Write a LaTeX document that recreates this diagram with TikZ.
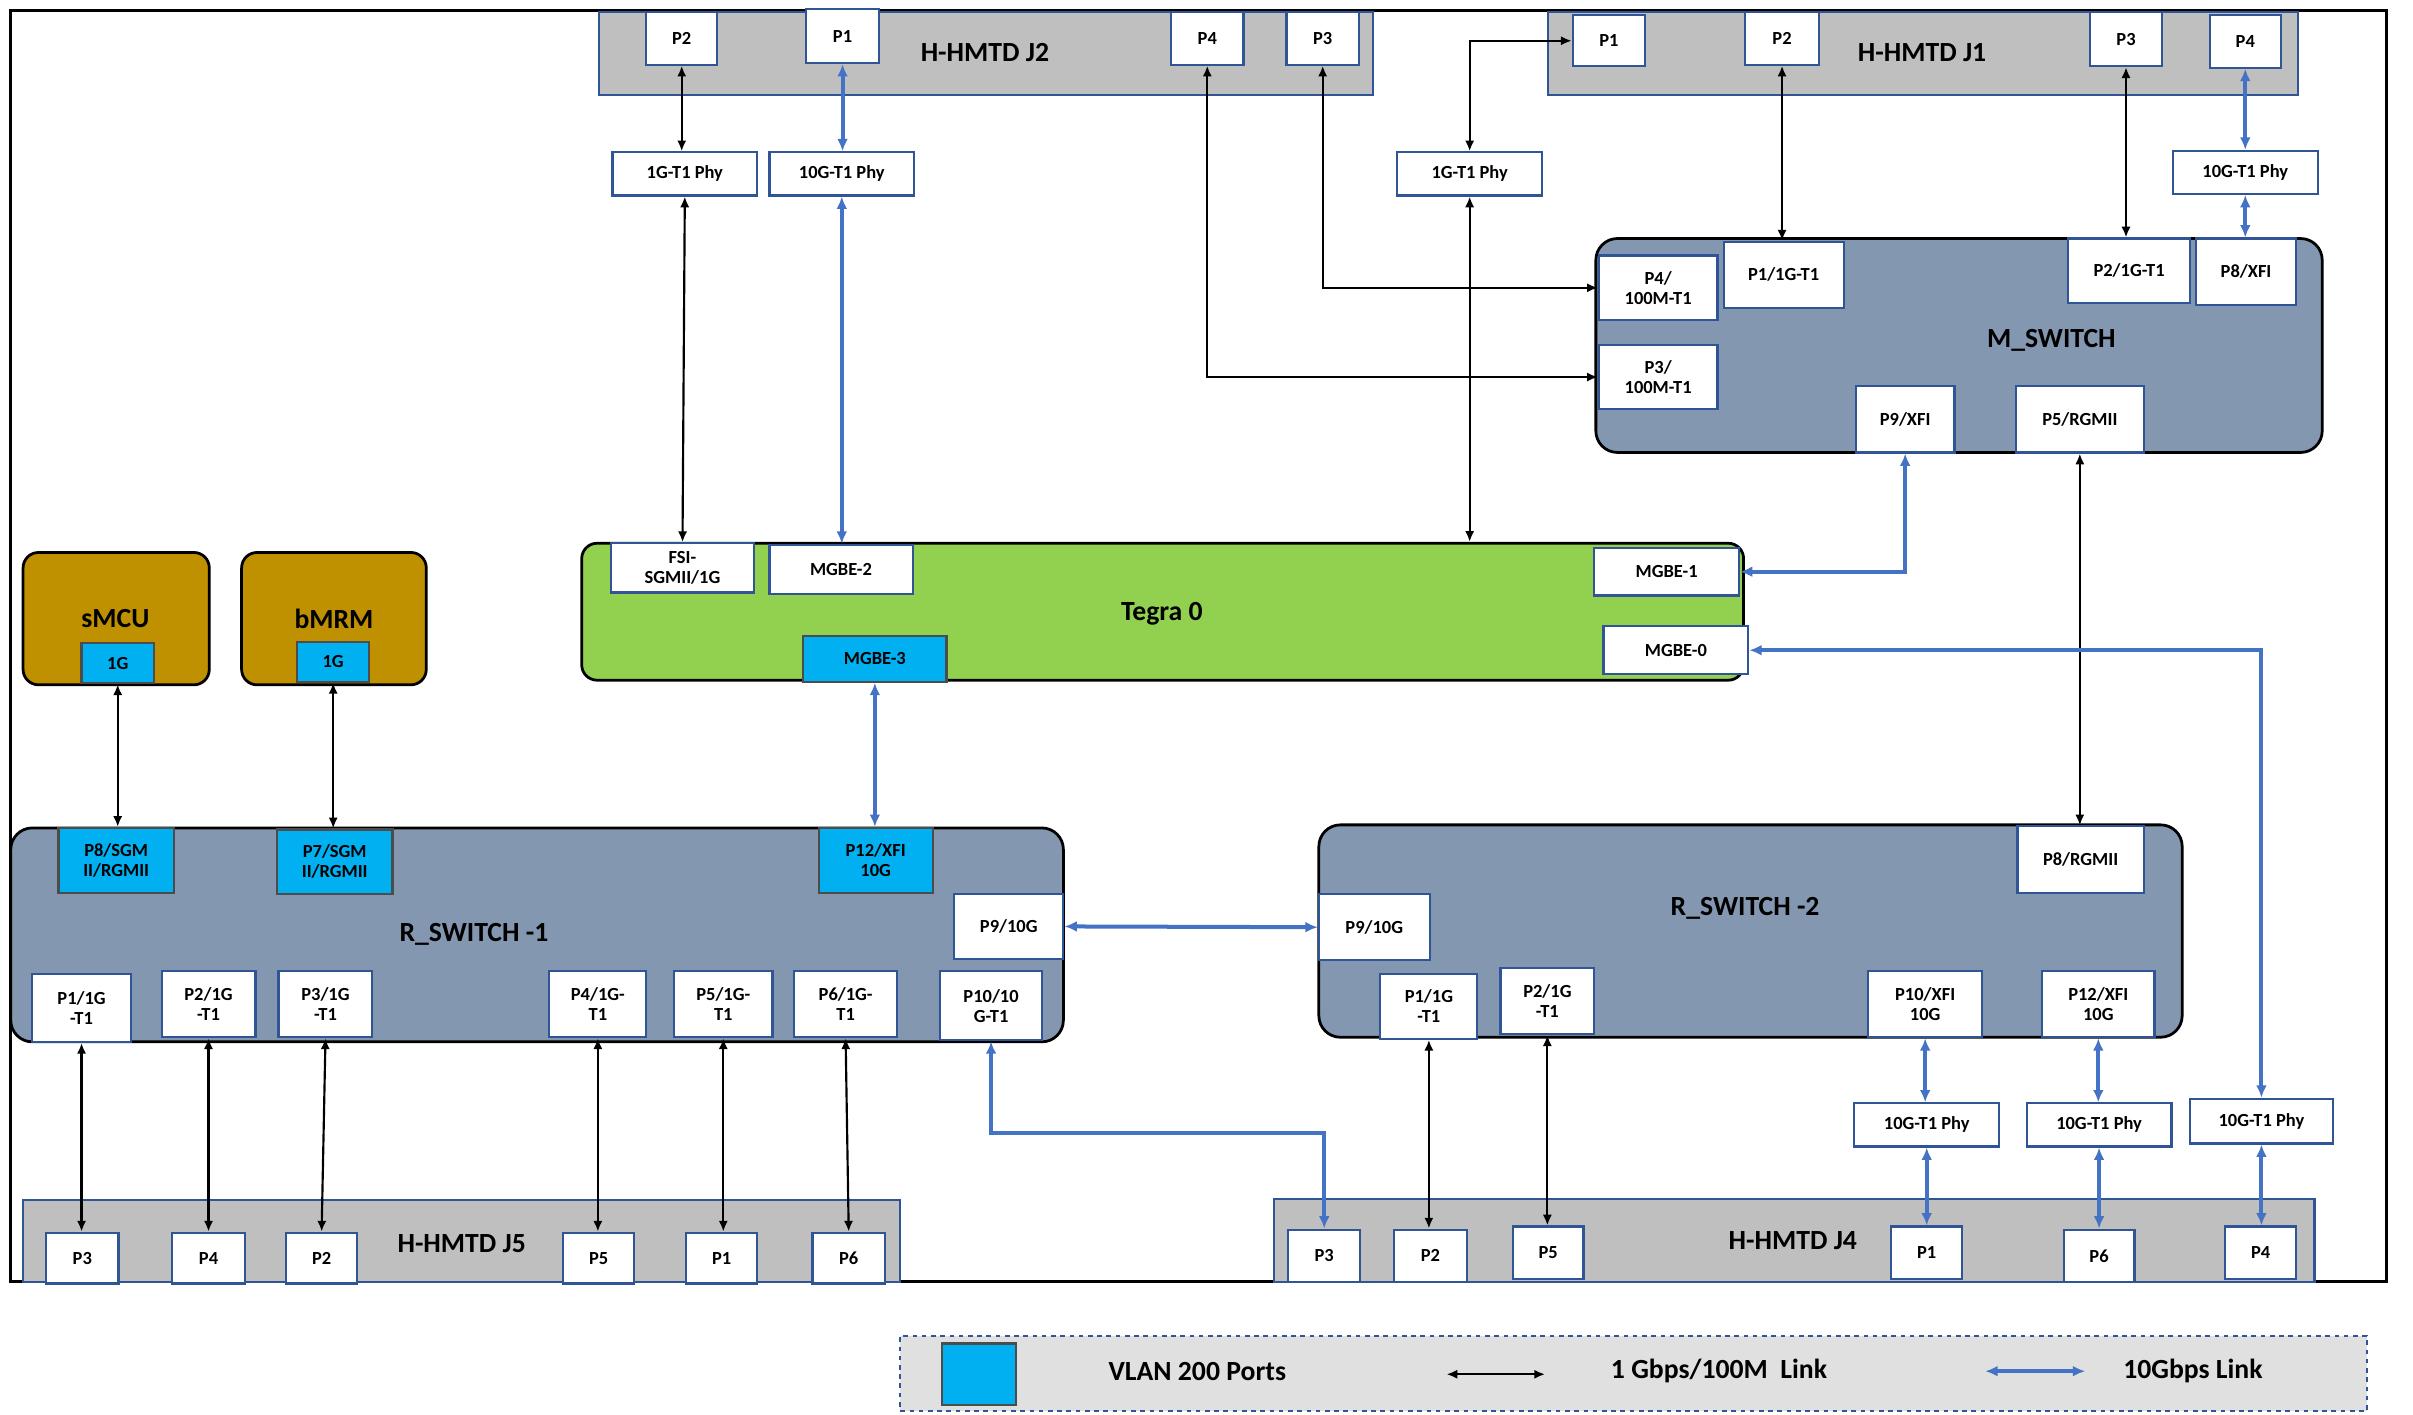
\documentclass[tikz,border=0pt]{standalone}
\usepackage{fontspec}
\setmainfont{Carlito}
\usetikzlibrary{arrows.meta}
\definecolor{pb}{HTML}{2F5597}
\definecolor{sw}{HTML}{8497B0}
\definecolor{gr}{HTML}{92D050}
\definecolor{au}{HTML}{BF9000}
\definecolor{cy}{HTML}{00B0F0}
\definecolor{lk}{HTML}{4472C4}
\newcommand\bx[7]{\node[#6,minimum width={(#4-#2)*1pt},minimum height={(#5-#3)*1pt}] (#1) at ({(#2+#4)/2},{(#3+#5)/2}) {#7};}
\begin{document}
\begin{tikzpicture}[x=1pt,y=-1pt,
 port/.style={draw=pb,line width=1.4pt,fill=white,inner sep=0pt,align=center,font=\fontsize{12}{13}\selectfont\bfseries},
 vport/.style={port,fill=cy,draw=black!70},
 hm/.style={draw=pb,line width=1.4pt,fill=black!25,inner sep=0pt},
 swb/.style={draw=black,line width=1.8pt,fill=sw,rounded corners=14pt,inner sep=0pt},
 big/.style={font=\fontsize{18}{19}\selectfont\bfseries},
 bl/.style={{Latex[length=7pt,width=6pt]}-{Latex[length=7pt,width=6pt]},line width=1.4pt,black},
 be/.style={{Latex[length=8pt,width=7pt]}-{Latex[length=8pt,width=7pt]},line width=2.6pt,lk}]
\useasboundingbox (0,0) rectangle (1568,919);
\draw[line width=2pt] (7,7) rectangle (1551,833);
% J2
\bx{j2}{389}{8}{892}{62}{hm}{}
\node[big] at (640,34) {H-HMTD J2};
\bx{j2p2}{420}{8}{466}{42}{port}{P2}
\bx{j2p1}{524}{6}{571}{41}{port}{P1}
\bx{j2p4}{761}{8}{808}{42}{port}{P4}
\bx{j2p3}{836}{8}{883}{42}{port}{P3}
% J1
\bx{j1}{1006}{8}{1493}{62}{hm}{}
\node[big] at (1249,34) {H-HMTD J1};
\bx{j1p1}{1022}{10}{1069}{43}{port}{P1}
\bx{j1p2}{1134}{8}{1182}{42}{port}{P2}
\bx{j1p3}{1358}{8}{1405}{43}{port}{P3}
\bx{j1p4}{1436}{10}{1482}{44}{port}{P4}
% phys
\bx{ph1}{398}{99}{492}{127}{port}{1G-T1 Phy}
\bx{ph2}{500}{99}{594}{127}{port}{10G-T1 Phy}
\bx{ph3}{908}{99}{1002}{127}{port}{1G-T1 Phy}
\bx{ph4}{1412}{98}{1506}{126}{port}{10G-T1 Phy}
\bx{ph5}{1205}{717}{1299}{745}{port}{10G-T1 Phy}
\bx{ph6}{1317}{717}{1411}{745}{port}{10G-T1 Phy}
\bx{ph7}{1423}{714}{1516}{743}{port}{10G-T1 Phy}
% M_SWITCH
\bx{ms}{1037}{155}{1509}{294}{swb}{}
\node[big] at (1333,221) {M\_SWITCH};
\bx{msp4}{1039}{166}{1116}{208}{port}{P4/\\100M-T1}
\bx{msp1}{1120}{157}{1198}{200}{port}{P1/1G-T1}
\bx{msp2}{1344}{155}{1423}{197}{port}{P2/1G-T1}
\bx{msp8}{1427}{155}{1492}{198}{port}{P8/XFI}
\bx{msp3}{1039}{224}{1116}{266}{port}{P3/\\100M-T1}
\bx{msp9}{1206}{251}{1270}{294}{port}{P9/XFI}
\bx{msp5}{1310}{251}{1393}{294}{port}{P5/RGMII}
% Tegra
\bx{tg}{378}{353}{1133}{442}{swb,fill=gr,rounded corners=10pt}{}
\node[big] at (755,399) {Tegra 0};
\bx{fsi}{397}{353}{490}{385}{port}{FSI-\\SGMII/1G}
\bx{mg2}{500}{354}{593}{386}{port}{MGBE-2}
\bx{mg3}{522}{413}{615}{443}{vport}{MGBE-3}
\bx{mg1}{1036}{356}{1130}{387}{port}{MGBE-1}
\bx{mg0}{1042}{407}{1136}{438}{port}{MGBE-0}
% sMCU bMRM
\bx{smcu}{15}{359}{136}{445}{swb,fill=au,rounded corners=10pt}{}
\node[big] at (75,402) {sMCU};
\bx{smp}{53}{418}{100}{444}{vport}{1G}
\bx{bmrm}{157}{359}{277}{445}{swb,fill=au,rounded corners=10pt}{}
\node[big] at (217,402) {bMRM};
\bx{bmp}{193}{417}{240}{443}{vport}{1G}
% R_SWITCH-1
\bx{r1}{7}{538}{691}{677}{swb}{}
\node[big] at (308,607) {R\_SWITCH -1};
\bx{r1p8}{38}{538}{113}{580}{vport}{P8/SGM\\II/RGMII}
\bx{r1p7}{180}{539}{255}{581}{vport}{P7/SGM\\II/RGMII}
\bx{r1p12}{532}{538}{606}{580}{vport}{P12/XFI\\10G}
\bx{r1p9}{620}{581}{691}{623}{port}{P9/10G}
\bx{r1p1}{21}{633}{85}{677}{port}{P1/1G\\-T1}
\bx{r1p2}{105}{631}{166}{674}{port}{P2/1G\\-T1}
\bx{r1p3}{181}{631}{242}{674}{port}{P3/1G\\-T1}
\bx{r1p4}{357}{631}{420}{674}{port}{P4/1G-\\T1}
\bx{r1p5}{438}{631}{502}{674}{port}{P5/1G-\\T1}
\bx{r1p6}{516}{631}{583}{674}{port}{P6/1G-\\T1}
\bx{r1p10}{611}{631}{677}{676}{port}{P10/10\\G-T1}
% R_SWITCH-2
\bx{r2}{857}{536}{1418}{674}{swb}{}
\node[big] at (1134,590) {R\_SWITCH -2};
\bx{r2p8}{1311}{537}{1393}{580}{port}{P8/RGMII}
\bx{r2p9}{857}{581}{929}{624}{port}{P9/10G}
\bx{r2p1}{897}{633}{960}{675}{port}{P1/1G\\-T1}
\bx{r2p2}{975}{629}{1036}{672}{port}{P2/1G\\-T1}
\bx{r2p10}{1214}{631}{1288}{674}{port}{P10/XFI\\10G}
\bx{r2p12}{1327}{631}{1400}{674}{port}{P12/XFI\\10G}
% J5
\bx{j5}{15}{780}{585}{833}{hm}{}
\node[big] at (300,808) {H-HMTD J5};
\bx{j5p3}{30}{801}{77}{834}{port}{P3}
\bx{j5p4}{112}{801}{159}{834}{port}{P4}
\bx{j5p2}{186}{801}{232}{834}{port}{P2}
\bx{j5p5}{366}{801}{412}{834}{port}{P5}
\bx{j5p1}{446}{801}{492}{834}{port}{P1}
\bx{j5p6}{528}{801}{575}{834}{port}{P6}
% J4
\bx{j4}{828}{779}{1504}{833}{hm}{}
\node[big] at (1165,806) {H-HMTD J4};
\bx{j4p3}{837}{799}{884}{833}{port}{P3}
\bx{j4p2}{906}{799}{953}{833}{port}{P2}
\bx{j4p5}{983}{797}{1029}{831}{port}{P5}
\bx{j4p1}{1229}{797}{1275}{831}{port}{P1}
\bx{j4p6}{1341}{799}{1387}{833}{port}{P6}
\bx{j4p4}{1446}{797}{1492}{831}{port}{P4}
% links
\draw[bl] (j2p2.south) -- (j2p2.south |- ph1.north);
\draw[be] (j2p1.south) -- (j2p1.south |- ph2.north);
\draw[bl] (ph1.south) -- (fsi.north);
\draw[be] (ph2.south) -- (ph2.south |- mg2.north);
\draw[bl] (j2p4.south) |- (msp3.west);
\draw[bl] (j2p3.south) |- (msp4.west);
\draw[bl] (j1p1.west) -| (ph3.north);
\draw[bl] (ph3.south) -- (ph3.south |- tg.north);
\draw[bl] (j1p2.south) -- (j1p2.south |- msp1.north);
\draw[bl] (j1p3.south) -- (j1p3.south |- msp2.north);
\draw[be] (j1p4.south) -- (j1p4.south |- ph4.north);
\draw[be] (ph4.south) -- (ph4.south |- msp8.north);
\draw[be] (msp9.south) |- (mg1.east);
\draw[bl] (msp5.south) -- (msp5.south |- r2p8.north);
\draw[be] (mg0.east) -| (ph7.north);
\draw[be] (ph7.south) -- (ph7.south |- j4p4.north);
\draw[bl] (smp.south) -- (smp.south |- r1p8.north);
\draw[bl] (bmp.south) -- (bmp.south |- r1p7.north);
\draw[be] (mg3.south) -- (mg3.south |- r1p12.north);
\draw[be] (r1p9.east) -- (r2p9.west);
\draw[be] (r1p10.south) -- (644,736) -| (j4p3.north);
\draw[bl] (r1p1.south) -- (r1p1.south |- j5p3.north);
\draw[bl] (r1p2.south) -- (r1p2.south |- j5p4.north);
\draw[bl] (r1p3.south) -- (j5p2.north);
\draw[bl] (r1p4.south) -- (r1p4.south |- j5p5.north);
\draw[bl] (r1p5.south) -- (r1p5.south |- j5p1.north);
\draw[bl] (r1p6.south) -- (j5p6.north);
\draw[bl] (r2p1.south) -- (r2p1.south |- j4p2.north);
\draw[bl] (r2p2.south) -- (r2p2.south |- j4p5.north);
\draw[be] (r2p10.south) -- (r2p10.south |- ph5.north);
\draw[be] (ph5.south) -- (ph5.south |- j4p1.north);
\draw[be] (r2p12.south) -- (r2p12.south |- ph6.north);
\draw[be] (ph6.south) -- (ph6.south |- j4p6.north);
% legend
\bx{lg}{585}{868}{1538}{917}{draw=pb,dashed,line width=1.4pt,fill=black!12}{}
\bx{lsq}{612}{873}{660}{913}{vport}{}
\node[big] at (778,891) {VLAN 200 Ports};
\coordinate (la) at (940,893); \coordinate (lb) at (1004,893);
\draw[bl] (la) -- (lb);
\node[big] at (1117,891) {1 Gbps/100M~~Link};
\coordinate (lc) at (1290,891); \coordinate (ld) at (1355,891);
\draw[be] (lc) -- (ld);
\node[big] at (1425,891) {10Gbps Link};
\end{tikzpicture}
\end{document}
